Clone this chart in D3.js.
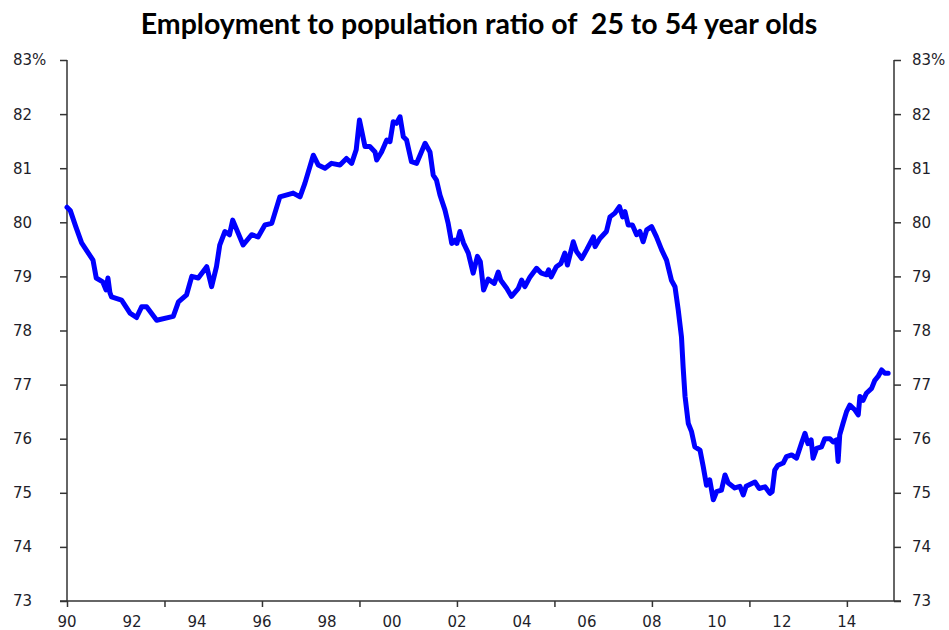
<!DOCTYPE html>
<html lang="en">
    <head>
        <meta charset="UTF-8"/>
        <title>Employment to population ratio</title>
        <script src="https://d3js.org/d3.v7.min.js"></script>
        <style>
            body { margin: 0; background: #fff; }
            svg { display: block; }
        </style>
    </head>
    <body>
        <div id="grafico"></div>
        <script>
            // fecha decimal (año) y valor
            var fechas = [
                1990.00, 1990.10, 1990.27, 1990.45, 1990.80, 1990.90, 1991.10, 1991.20, 1991.26, 1991.32,
                1991.37, 1991.68, 1991.94, 1992.14, 1992.30, 1992.45, 1992.76, 1993.27, 1993.43, 1993.68,
                1993.84, 1994.04, 1994.30, 1994.45, 1994.60, 1994.70, 1994.86, 1995.00, 1995.10, 1995.42,
                1995.68, 1995.88, 1996.09, 1996.30, 1996.55, 1996.96, 1997.17, 1997.32, 1997.58, 1997.73,
                1997.94, 1998.14, 1998.40, 1998.60, 1998.76, 1998.90, 1999.00, 1999.17, 1999.32, 1999.48,
                1999.53, 1999.68, 1999.84, 1999.94, 2000.04, 2000.14, 2000.25, 2000.35, 2000.45, 2000.60,
                2000.76, 2001.02, 2001.17, 2001.27, 2001.37, 2001.48, 2001.63, 2001.73, 2001.84, 2001.94,
                2002.00, 2002.09, 2002.20, 2002.35, 2002.50, 2002.63, 2002.72, 2002.82, 2002.96, 2003.15,
                2003.27, 2003.35, 2003.53, 2003.68, 2003.89, 2003.99, 2004.09, 2004.25, 2004.45, 2004.60,
                2004.76, 2004.82, 2004.90, 2005.06, 2005.20, 2005.32, 2005.40, 2005.58, 2005.68, 2005.84,
                2005.99, 2006.20, 2006.25, 2006.40, 2006.60, 2006.71, 2006.86, 2007.00, 2007.10, 2007.17,
                2007.27, 2007.40, 2007.53, 2007.63, 2007.73, 2007.84, 2007.99, 2008.14, 2008.30, 2008.45,
                2008.60, 2008.71, 2008.81, 2008.91, 2008.96, 2009.02, 2009.12, 2009.22, 2009.32, 2009.48,
                2009.58, 2009.68, 2009.78, 2009.89, 2009.99, 2010.14, 2010.25, 2010.35, 2010.55, 2010.71,
                2010.81, 2010.90, 2011.17, 2011.30, 2011.48, 2011.63, 2011.70, 2011.78, 2011.88, 2012.04,
                2012.14, 2012.30, 2012.45, 2012.60, 2012.71, 2012.80, 2012.90, 2012.96, 2013.07, 2013.22,
                2013.32, 2013.48, 2013.58, 2013.68, 2013.73, 2013.78, 2013.88, 2013.99, 2014.09, 2014.25,
                2014.35, 2014.40, 2014.50, 2014.60, 2014.76, 2014.86, 2014.96, 2015.07, 2015.17, 2015.27
            ];
            var ratio = [
                80.28, 80.22, 79.92, 79.62, 79.30, 78.97, 78.90, 78.75, 78.97, 78.70,
                78.62, 78.56, 78.32, 78.24, 78.44, 78.44, 78.19, 78.26, 78.53, 78.66,
                79.00, 78.97, 79.18, 78.81, 79.18, 79.58, 79.83, 79.77, 80.04, 79.58,
                79.77, 79.73, 79.95, 79.98, 80.47, 80.54, 80.47, 80.72, 81.24, 81.06,
                81.00, 81.09, 81.06, 81.18, 81.09, 81.34, 81.89, 81.40, 81.40, 81.30,
                81.15, 81.30, 81.52, 81.49, 81.86, 81.83, 81.95, 81.58, 81.52, 81.12,
                81.09, 81.46, 81.30, 80.87, 80.78, 80.50, 80.23, 79.98, 79.61, 79.67,
                79.61, 79.83, 79.62, 79.43, 79.06, 79.37, 79.27, 78.75, 78.95, 78.87,
                79.08, 78.93, 78.78, 78.63, 78.78, 78.93, 78.81, 78.99, 79.15, 79.06,
                79.03, 79.12, 78.99, 79.18, 79.24, 79.43, 79.21, 79.64, 79.46, 79.33,
                79.49, 79.73, 79.55, 79.70, 79.83, 80.10, 80.17, 80.29, 80.10, 80.20,
                79.95, 79.95, 79.77, 79.83, 79.64, 79.86, 79.92, 79.73, 79.49, 79.30,
                78.93, 78.81, 78.38, 77.88, 77.33, 76.78, 76.28, 76.13, 75.85, 75.79,
                75.48, 75.14, 75.24, 74.87, 75.02, 75.05, 75.33, 75.18, 75.09, 75.12,
                74.96, 75.12, 75.20, 75.08, 75.11, 74.99, 75.02, 75.42, 75.51, 75.55,
                75.67, 75.70, 75.64, 75.91, 76.10, 75.91, 75.98, 75.64, 75.82, 75.85,
                76.00, 76.00, 75.94, 75.98, 75.58, 76.07, 76.28, 76.50, 76.62, 76.53,
                76.44, 76.78, 76.71, 76.84, 76.93, 77.08, 77.15, 77.27, 77.21, 77.21
            ];
            var ticksY = [73, 74, 75, 76, 77, 78, 79, 80, 81, 82, 83];
            var marcasX = [1990, 1993, 1996, 1999, 2002, 2005, 2008, 2011, 2014];
            var etiquetasX = [1990, 1992, 1994, 1996, 1998, 2000, 2002, 2004, 2006, 2008, 2010, 2012, 2014];
            var titulo = "Employment to population ratio of  25 to 54 year olds";

            var W = 949, H = 630;
            var x0 = 67, x1 = 894, yTop = 60, yBot = 601;

            var svg = d3.select("#grafico").append("svg")
                .attr("width", W)
                .attr("height", H);

            var xScale = d3.scaleLinear().domain([1990, 2015.45]).range([x0, x1]);
            var yScale = d3.scaleLinear().domain([73, 83]).range([yBot, yTop]);

            svg.append("text")
                .attr("x", 479)
                .attr("y", 34)
                .attr("text-anchor", "middle")
                .style("white-space", "pre")
                .attr("font-family", "Lato, 'Open Sans', sans-serif")
                .attr("font-weight", 700)
                .attr("font-size", 28.5)
                .attr("fill", "#000")
                .text(titulo);

            var fmtY = d => d === 83 ? d + "%" : String(d);

            // ejes verticales (izquierda y derecha)
            function ejeY(g, lado) {
                g.attr("transform", `translate(${lado === "izq" ? x0 : x1},0)`)
                    .call((lado === "izq" ? d3.axisLeft(yScale) : d3.axisRight(yScale))
                        .tickValues(ticksY).tickSize(7).tickFormat(""));
                g.select(".domain").remove();
                g.selectAll("line").attr("stroke", "#333").attr("stroke-width", 1.5);
                g.append("line")
                    .attr("y1", yTop).attr("y2", yBot)
                    .attr("stroke", "#333").attr("stroke-width", 1.5);
            }
            svg.append("g").call(ejeY, "izq");
            svg.append("g").call(ejeY, "der");

            var estiloTexto = sel => sel
                .attr("font-family", "'DejaVu Sans', Verdana, sans-serif")
                .attr("font-size", 15)
                .attr("fill", "#1e1e2a");

            svg.append("g").selectAll("text")
                .data(ticksY).join("text")
                .attr("x", 13)
                .attr("y", d => yScale(d))
                .attr("dy", "0.36em")
                .call(estiloTexto)
                .text(fmtY);
            svg.append("g").selectAll("text")
                .data(ticksY).join("text")
                .attr("x", 912)
                .attr("y", d => yScale(d))
                .attr("dy", "0.36em")
                .call(estiloTexto)
                .text(fmtY);

            // eje horizontal
            var gx = svg.append("g")
                .attr("transform", `translate(0,${yBot})`)
                .call(d3.axisBottom(xScale).tickValues(marcasX).tickSize(6).tickFormat(""));
            gx.select(".domain").remove();
            gx.selectAll("line").attr("stroke", "#333").attr("stroke-width", 1.5);
            gx.append("line")
                .attr("x1", x0 - 7).attr("x2", x1 + 7)
                .attr("stroke", "#333").attr("stroke-width", 1.5);

            svg.append("g").selectAll("text")
                .data(etiquetasX).join("text")
                .attr("x", d => xScale(d))
                .attr("y", 627)
                .attr("text-anchor", "middle")
                .call(estiloTexto)
                .text(d => String(d).slice(2));

            var datos = fechas.map((f, i) => ({f: f, v: ratio[i]}));
            var linea = d3.line()
                .x(d => xScale(d.f))
                .y(d => yScale(d.v));
            svg.append("path")
                .datum(datos)
                .attr("d", linea)
                .attr("fill", "none")
                .attr("stroke", "#0000ff")
                .attr("stroke-width", 5)
                .attr("stroke-linejoin", "round")
                .attr("stroke-linecap", "round");
        </script>
    </body>
</html>
